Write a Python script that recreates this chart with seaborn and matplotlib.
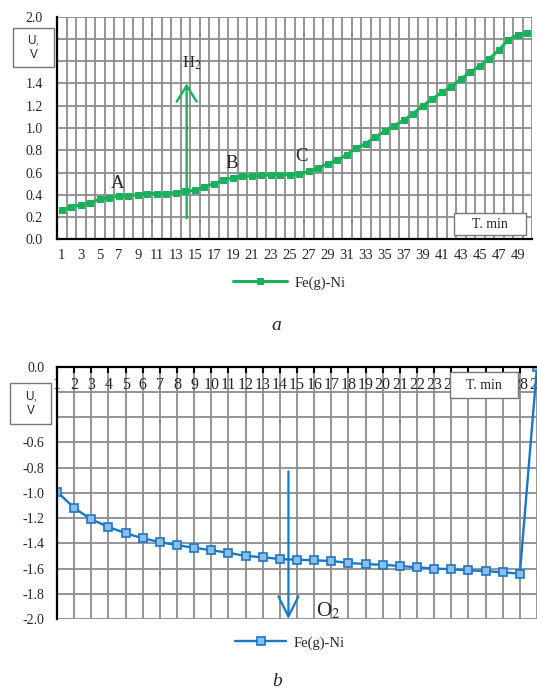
import numpy as np
import pandas as pd
import matplotlib
matplotlib.use("Agg")
import matplotlib.pyplot as plt
import seaborn as sns
from matplotlib.ticker import FuncFormatter
from matplotlib.patches import Rectangle

# chart a: Fe(g)-Ni under H2
time_a = list(range(1, 51))
u_a = [0.26, 0.29, 0.31, 0.33, 0.36, 0.37, 0.39, 0.39, 0.40, 0.41,
       0.41, 0.41, 0.42, 0.43, 0.44, 0.47, 0.50, 0.53, 0.555, 0.565,
       0.57, 0.575, 0.58, 0.58, 0.58, 0.59, 0.61, 0.64, 0.68, 0.71,
       0.76, 0.82, 0.86, 0.92, 0.97, 1.02, 1.07, 1.13, 1.20, 1.26,
       1.32, 1.37, 1.44, 1.50, 1.56, 1.62, 1.70, 1.79, 1.84, 1.85]
a_xticks = list(range(1, 50, 2))
a_yticks = [0.0, 0.2, 0.4, 0.6, 0.8, 1.0, 1.2, 1.4, 1.6, 1.8, 2.0]

# chart b: Fe(g)-Ni under O2
time_b = list(range(1, 30))
u_b = [-0.99, -1.12, -1.21, -1.27, -1.32, -1.36, -1.39, -1.415, -1.435, -1.455,
       -1.475, -1.50, -1.51, -1.525, -1.53, -1.535, -1.54, -1.555, -1.565, -1.57,
       -1.58, -1.59, -1.60, -1.605, -1.615, -1.62, -1.63, -1.64, 0.0]
b_yticks = [-2.0, -1.8, -1.6, -1.4, -1.2, -1.0, -0.8, -0.6, -0.4, -0.2, 0.0]

series = "Fe(g)-Ni"
green = "#17b35a"
blue = "#1878c8"
grid_c = "#8c8c8c"

sns.set_style("white")
plt.rcParams["font.family"] = ["Liberation Serif", "DejaVu Serif"]
plt.rcParams["mathtext.fontset"] = "stix"

W, H = 537, 689
fig = plt.figure(figsize=(W / 100, H / 100), dpi=100)
ax1 = fig.add_axes([57 / W, 1 - 239.3 / H, 475 / W, 222.6 / H])
ax2 = fig.add_axes([57 / W, 1 - 619 / H, 480 / W, 252.3 / H])

fmt = FuncFormatter(lambda v, _: f"{0.0 if abs(v) < 1e-9 else v:.1f}")

# ---- chart a ----
df_a = pd.DataFrame({"T": time_a, "U": u_a})
sns.lineplot(data=df_a, x="T", y="U", ax=ax1, color=green, lw=2.2,
             marker="s", markersize=4.8, markeredgecolor=green, label=series)
ax1.set_xlim(0.5, 50.5)
ax1.set_ylim(0, 2.0)
ax1.set_xticks(a_xticks)
ax1.set_xticks(np.arange(0.5, 51, 1), minor=True)
ax1.set_yticks(a_yticks)
ax1.yaxis.set_major_formatter(fmt)
ax1.grid(True, which="minor", axis="x", color=grid_c, lw=1.3)
ax1.grid(True, which="major", axis="y", color=grid_c, lw=1.3)
ax1.tick_params(axis="x", which="major", length=0, labelsize=10.5, pad=7)
ax1.tick_params(axis="x", which="minor", direction="in", length=3, width=1.5, color="black")
ax1.tick_params(axis="y", direction="in", length=4, width=1.5, color="black", labelsize=10, pad=10)
for s in ["top", "right"]:
    ax1.spines[s].set_visible(False)
for s in ["left", "bottom"]:
    ax1.spines[s].set_color("black")
    ax1.spines[s].set_linewidth(1.6)
ax1.set_xlabel("")
ax1.set_ylabel("")

ax1.annotate("", xy=(14.15, 1.40), xytext=(14.15, 0.19),
             arrowprops=dict(arrowstyle="->,head_length=1.15,head_width=0.72",
                             color=green, lw=1.7, shrinkA=0, shrinkB=0, mutation_scale=10))
ax1.text(14.7, 1.58, "H$_2$", fontsize=12, ha="center", va="center")
ax1.text(6.85, 0.50, "A", fontsize=13.5, ha="center", va="center")
ax1.text(18.9, 0.685, "B", fontsize=13.5, ha="center", va="center")
ax1.text(26.2, 0.745, "C", fontsize=13.5, ha="center", va="center")

ax1.legend(loc="center", bbox_to_anchor=(289 / W, 1 - 283 / H), bbox_transform=fig.transFigure,
           frameon=False, fontsize=10.5, handlelength=3.7, handletextpad=0.5)

# ---- chart b ----
df_b = pd.DataFrame({"T": time_b, "U": u_b})
sns.lineplot(data=df_b, x="T", y="U", ax=ax2, color=blue, lw=1.7,
             marker="s", markersize=6, markerfacecolor="#8fbde6",
             markeredgecolor=blue, markeredgewidth=1.2, label=series)
ax2.set_xlim(1, 29)
ax2.set_ylim(-2.0, 0.0)
ax2.set_xticks(time_b)
ax2.set_yticks(b_yticks)
ax2.yaxis.set_major_formatter(fmt)
ax2.grid(True, which="major", axis="both", color=grid_c, lw=1.3)
ax2.tick_params(axis="x", direction="in", length=4, width=1.5, color="black",
                top=True, bottom=False, labeltop=True, labelbottom=False,
                pad=-19, labelsize=11.5)
ax2.tick_params(axis="y", direction="in", length=0, labelsize=10, pad=9)
for s in ["bottom", "right"]:
    ax2.spines[s].set_visible(False)
for s in ["left", "top"]:
    ax2.spines[s].set_color("black")
    ax2.spines[s].set_linewidth(1.6)
ax2.set_xlabel("")
ax2.set_ylabel("")

ax2.annotate("", xy=(14.5, -2.0), xytext=(14.5, -0.83),
             arrowprops=dict(arrowstyle="->,head_length=1.45,head_width=0.72",
                             color=blue, lw=1.6, shrinkA=0, shrinkB=0, mutation_scale=10))
ax2.text(16.8, -1.935, "O$_2$", fontsize=15, ha="center", va="center")

ax2.legend(loc="center", bbox_to_anchor=(290 / W, 1 - 643 / H), bbox_transform=fig.transFigure,
           frameon=False, fontsize=10.5, handlelength=3.5, handletextpad=0.5)

# ---- boxed axis labels ----
def box_label(x0, y0, x1, y1, text, **kw):
    fig.patches.append(Rectangle((x0 / W, 1 - y1 / H), (x1 - x0) / W, (y1 - y0) / H,
                                 transform=fig.transFigure, facecolor="white",
                                 edgecolor="#777777", lw=1.0, zorder=5))
    fig.text((x0 + x1) / 2 / W, 1 - (y0 + y1) / 2 / H, text, ha="center", va="center",
             zorder=6, **kw)

box_label(13, 28, 54, 67, "U,\nV", family=["Liberation Sans", "DejaVu Sans"], fontsize=8.5, linespacing=1.3)
box_label(454, 213, 526, 235, "T. min", fontsize=10)
box_label(10, 383, 51, 424, "U,\nV", family=["Liberation Sans", "DejaVu Sans"], fontsize=8.5, linespacing=1.3)
box_label(450, 372, 518, 398, "T. min", fontsize=10)

fig.text(276 / W, 1 - 325 / H, "a", style="italic", fontsize=14, ha="center", va="center")
fig.text(277 / W, 1 - 682 / H, "b", style="italic", fontsize=14, ha="center", va="center")

fig.savefig("out.png", dpi=100)
